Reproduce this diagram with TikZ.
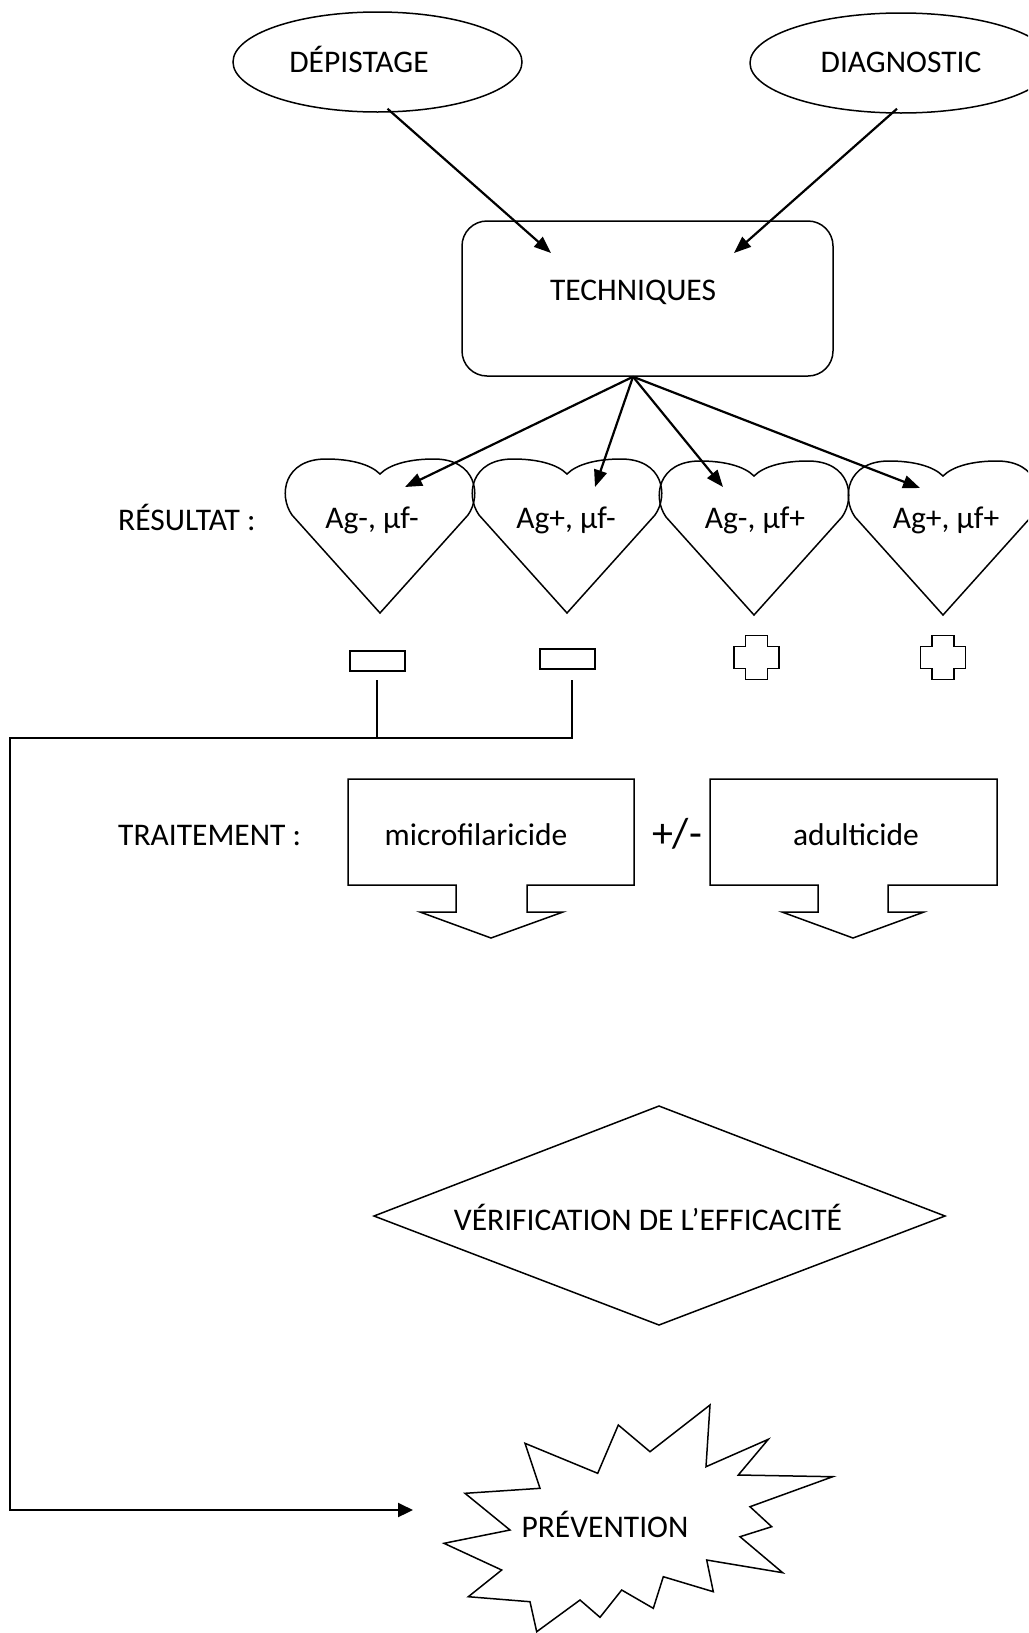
\documentclass[tikz,border=0pt]{standalone}
\usepackage{fontspec}
\setmainfont{Carlito}
\usetikzlibrary{arrows.meta,shapes.geometric}
\begin{document}
\begin{tikzpicture}[x=1pt,y=-1pt,
  shapeline/.style={draw, line width=1.5pt},
  conn/.style={line width=2.2pt},
  arr/.style={conn, -{Triangle[length=17pt,width=13pt]}},
  txt/.style={font=\fontsize{31.5}{36}\selectfont, inner sep=0pt, anchor=base},
  heart/.pic={\draw[shapeline] (0,154) -- (-88,56) .. controls (-102,36) and (-96,0) .. (-54,0)
      .. controls (-30,0) and (-10,5) .. (0,15) .. controls (10,5) and (30,0) .. (54,0)
      .. controls (96,0) and (102,36) .. (88,56) -- cycle;},
  plus/.pic={\draw[shapeline] (-11,-22) -- ++(22,0) -- ++(0,11) -- ++(11.5,0) -- ++(0,22)
      -- ++(-11.5,0) -- ++(0,11) -- ++(-22,0) -- ++(0,-11) -- ++(-11.5,0) -- ++(0,-22)
      -- ++(11.5,0) -- cycle;}
]
\useasboundingbox (0,0) rectangle (1028,1633);
\clip (0,0) rectangle (1028,1633);

% top ellipses
\node[shapeline, ellipse, minimum width=289pt, minimum height=100pt, inner sep=0pt] (dep) at (377.5,62) {};
\node[txt] (deptxt) at (359,72) {DÉPISTAGE};
\node[shapeline, ellipse, minimum width=302pt, minimum height=100pt, inner sep=0pt] (diag) at (901,63) {};
\node[txt] (diagtxt) at (901,72) {DIAGNOSTIC};

% techniques box
\node[shapeline, rounded corners=25pt, minimum width=371pt, minimum height=155pt, inner sep=0pt] (tech) at (647.5,298.5) {};
\node[txt] (techtxt) at (633,300) {TECHNIQUES};

\coordinate (tin1) at (551,253);
\coordinate (tin2) at (734,253);
\draw[arr] ([shift={(10,-4)}]dep.south) -- (tin1);
\draw[arr] ([shift={(-4,-5)}]diag.south) -- (tin2);

% hearts
\pic at (380,459) {heart};
\pic at (567,459) {heart};
\pic at (754,461) {heart};
\pic at (943,461) {heart};
\node[txt] (h1) at (372,528) {Ag-, µf-};
\node[txt] (h2) at (566,528) {Ag+, µf-};
\node[txt] (h3) at (755,528) {Ag-, µf+};
\node[txt] (h4) at (946,528) {Ag+, µf+};
\node[txt, anchor=base west] (res) at (118,530) {RÉSULTAT :};

\coordinate (ht1) at (405,487);
\coordinate (ht2) at (595,487);
\coordinate (ht3) at (723,487);
\coordinate (ht4) at (920,488);
\draw[arr] ([xshift=-14.5pt]tech.south) -- (ht1);
\draw[arr] ([xshift=-14.5pt]tech.south) -- (ht2);
\draw[arr] ([xshift=-14.5pt]tech.south) -- (ht3);
\draw[arr] ([xshift=-14.5pt]tech.south) -- (ht4);

% minus / plus signs
\node[shapeline, line width=2pt, minimum width=55pt, minimum height=20pt, inner sep=0pt] (m1) at (377,661) {};
\node[shapeline, line width=2pt, minimum width=55pt, minimum height=20pt, inner sep=0pt] (m2) at (567,659) {};
\pic at (756.5,657.7) {plus};
\pic at (943,657.7) {plus};

% connectors to prevention
\coordinate (j0) at (10,738);
\coordinate (pv) at (413,1510);
\draw[conn] ([yshift=-8pt]m1.south) -- (m1.south |- j0);
\draw[conn, -{Triangle[length=15pt,width=14pt]}] ([xshift=5pt,yshift=-10pt]m2.south) |- (j0) |- (pv);

% treatment
\node[txt, anchor=base west] (trt) at (118,845) {TRAITEMENT :};
\draw[shapeline] (348,779) -- (634,779) -- (634,885) -- (527,885) -- (527,912) -- (563,912) -- (491,938)
  -- (420,912) -- (456,912) -- (456,885) -- (348,885) -- cycle;
\draw[shapeline] (710,779) -- (997,779) -- (997,885) -- (888,885) -- (888,912) -- (924,912) -- (853,938)
  -- (782,912) -- (818,912) -- (818,885) -- (710,885) -- cycle;
\node[txt] (mic) at (476,845) {microfilaricide};
\node[txt] (adu) at (856,845) {adulticide};
\node[txt, font=\fontsize{42}{48}\selectfont] (pm) at (677,847) {+/-};

% verification diamond
\draw[shapeline] (374,1216) -- (659,1106) -- (945,1216) -- (659,1325) -- cycle;
\node[txt] (ver) at (648,1230) {VÉRIFICATION DE L’EFFICACITÉ};

% prevention star
\draw[shapeline] (525,1443.3) -- (597.7,1473.3) -- (618.3,1425) -- (650,1451.7) -- (710,1405)
  -- (706,1466.7) -- (768.3,1439.3) -- (738.3,1475) -- (832.7,1476.7) -- (750,1506.7)
  -- (771.7,1526.7) -- (740,1536.7) -- (782.7,1572.7) -- (706.7,1560) -- (713.3,1591.7)
  -- (663.3,1576.7) -- (653.3,1608.3) -- (621.7,1590) -- (600,1617.3) -- (580,1600)
  -- (536.7,1631.7) -- (530,1601.7) -- (468.3,1596.7) -- (501.7,1570) -- (444,1543.3)
  -- (510,1530) -- (465,1493.3) -- (540,1488.3) -- cycle;
\node[txt] (prev) at (605,1537) {PRÉVENTION};
\end{tikzpicture}
\end{document}
